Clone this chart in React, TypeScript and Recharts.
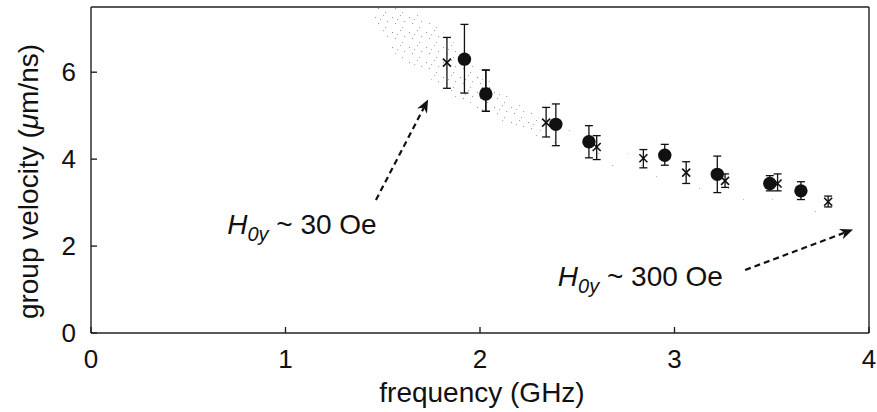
import React from 'react';
import {
  ComposedChart,
  Scatter,
  Area,
  XAxis,
  YAxis,
  ErrorBar,
  Label,
  ReferenceLine,
  ReferenceDot,
} from 'recharts';

const FONT = '"Liberation Sans", Arial, Helvetica, sans-serif';
const INK = '#111';

// filled circles
const circleFreq = [1.92, 2.03, 2.39, 2.56, 2.95, 3.22, 3.49, 3.65];
const circleVel = [6.3, 5.5, 4.8, 4.4, 4.09, 3.65, 3.44, 3.27];
const circleErrLow = [0.78, 0.4, 0.49, 0.37, 0.23, 0.42, 0.17, 0.2];
const circleErrHigh = [0.8, 0.55, 0.47, 0.37, 0.25, 0.42, 0.18, 0.21];

// crosses
const crossFreq = [1.83, 2.03, 2.34, 2.6, 2.84, 3.06, 3.26, 3.53, 3.79];
const crossVel = [6.22, 5.55, 4.84, 4.28, 4.02, 3.69, 3.5, 3.44, 3.02];
const crossErrLow = [0.59, 0.45, 0.33, 0.29, 0.22, 0.25, 0.15, 0.17, 0.12];
const crossErrHigh = [0.58, 0.5, 0.35, 0.26, 0.2, 0.25, 0.16, 0.22, 0.13];

// stippled band (dense head, sparse tail)
const headFreq = [1.43, 1.55, 1.7, 1.85, 2.0, 2.15, 2.3];
const headLow = [7.35, 6.5, 6.0, 5.5, 5.1, 4.8, 4.45];
const headHigh = [7.5, 7.5, 7.3, 6.75, 6.0, 5.45, 5.05];
const tailFreq = [2.3, 2.6, 3.0, 3.4, 3.8];
const tailLow = [4.45, 3.9, 3.35, 2.95, 2.65];
const tailHigh = [5.05, 4.4, 3.8, 3.3, 2.85];

const xTicks = [0, 1, 2, 3, 4];
const yTicks = [0, 2, 4, 6];

const circles = circleFreq.map((f, i) => ({ f, v: circleVel[i], err: [circleErrLow[i], circleErrHigh[i]] }));
const crosses = crossFreq.map((f, i) => ({ f, v: crossVel[i], err: [crossErrLow[i], crossErrHigh[i]] }));
const head = headFreq.map((f, i) => ({ f, range: [headLow[i], headHigh[i]] }));
const tail = tailFreq.map((f, i) => ({ f, range: [tailLow[i], tailHigh[i]] }));

// annotation anchors (data units)
const arrowLow = [{ x: 1.465, y: 3.06 }, { x: 1.733, y: 5.37 }];
const arrowHigh = [{ x: 3.363, y: 1.45 }, { x: 3.918, y: 2.38 }];
const labelLow = { x: 0.7, y: 2.28, text: ' ~ 30 Oe' };
const labelHigh = { x: 2.4, y: 1.08, text: ' ~ 300 Oe' };

const Dot = (p: any) => <circle cx={p.cx} cy={p.cy} r={6.7} fill={INK} />;

const Cross = (p: any) => (
  <g stroke={INK} strokeWidth={1.6}>
    <line x1={p.cx - 4} y1={p.cy - 4} x2={p.cx + 4} y2={p.cy + 4} />
    <line x1={p.cx - 4} y1={p.cy + 4} x2={p.cx + 4} y2={p.cy - 4} />
  </g>
);

const Arrow = (p: any) => {
  const { x1, y1, x2, y2 } = p;
  const a = Math.atan2(y2 - y1, x2 - x1);
  const c = Math.cos(a);
  const s = Math.sin(a);
  const L = 13;
  const W = 5.5;
  const bx = x2 - L * c;
  const by = y2 - L * s;
  const nx = x2 - L * 0.7 * c;
  const ny = y2 - L * 0.7 * s;
  const pts = [
    [x2, y2],
    [bx - W * s, by + W * c],
    [nx, ny],
    [bx + W * s, by - W * c],
  ]
    .map((q) => q.join(','))
    .join(' ');
  return (
    <g>
      <line x1={x1} y1={y1} x2={nx} y2={ny} stroke={INK} strokeWidth={2.2} strokeDasharray="6 4" />
      <polygon points={pts} fill={INK} />
    </g>
  );
};

const fieldLabel = (text: string) => (p: any) => (
  <text x={p.cx} y={p.cy} fontFamily={FONT} fontSize={28} fill={INK}>
    <tspan fontStyle="italic">H</tspan>
    <tspan fontSize={20} fontStyle="italic" dy={7}>0y</tspan>
    <tspan dy={-7}>{text}</tspan>
  </text>
);

const tickStyle = { fontSize: 26, fill: INK, fontFamily: FONT };
const axisLine = { stroke: '#222', strokeWidth: 1.4 };
const tickLine = { stroke: '#222', strokeWidth: 1.4 };

export default function App() {
  return (
    <div style={{ position: 'absolute', left: 0, top: 0, width: 877, height: 412, background: '#fff' }}>
      <ComposedChart width={877} height={412} margin={{ top: 6, right: 7, bottom: 0, left: 0 }}>
        <defs>
          <pattern id="stippleDense" width={17} height={15} patternUnits="userSpaceOnUse">
            <rect x={1} y={2} width={1.1} height={1.1} fill="#999" />
            <rect x={9} y={0} width={1.1} height={1.1} fill="#aaa" />
            <rect x={4} y={8} width={1.1} height={1.1} fill="#999" />
            <rect x={13} y={6} width={1.1} height={1.1} fill="#a5a5a5" />
            <rect x={11} y={12} width={1.1} height={1.1} fill="#aaa" />
            <rect x={6} y={4} width={1.1} height={1.1} fill="#b0b0b0" />
          </pattern>
          <pattern id="stippleSparse" width={29} height={23} patternUnits="userSpaceOnUse">
            <rect x={3} y={4} width={1.1} height={1.1} fill="#b3b3b3" />
            <rect x={18} y={15} width={1.1} height={1.1} fill="#bbb" />
          </pattern>
        </defs>

        <XAxis
          dataKey="f"
          type="number"
          domain={[0, 4]}
          ticks={xTicks}
          interval={0}
          allowDataOverflow
          height={79}
          tick={tickStyle}
          tickSize={-6}
          tickMargin={23}
          axisLine={axisLine}
          tickLine={tickLine}
        >
          <Label
            content={(p: any) => (
              <text
                x={p.viewBox.x + p.viewBox.width / 2 + 2}
                y={p.viewBox.y + 69}
                textAnchor="middle"
                fontFamily={FONT}
                fontSize={28}
                fill={INK}
              >
                frequency (GHz)
              </text>
            )}
          />
        </XAxis>
        <XAxis
          xAxisId="top"
          orientation="top"
          type="number"
          domain={[0, 4]}
          ticks={[1, 2, 3]}
          height={1}
          tick={false}
          tickSize={-6}
          axisLine={axisLine}
          tickLine={tickLine}
        />
        <YAxis
          type="number"
          domain={[0, 7.5]}
          ticks={yTicks}
          interval={0}
          allowDataOverflow
          width={91}
          tick={tickStyle}
          tickSize={-6}
          tickMargin={21}
          axisLine={axisLine}
          tickLine={tickLine}
        >
          <Label
            content={(p: any) => {
              const x = 38;
              const y = p.viewBox.y + p.viewBox.height / 2 + 11.5;
              return (
                <text
                  x={x}
                  y={y}
                  transform={`rotate(-90, ${x}, ${y})`}
                  textAnchor="middle"
                  fontFamily={FONT}
                  fontSize={28}
                  fill={INK}
                >
                  group velocity (<tspan fontStyle="italic">μ</tspan>m/ns)
                </text>
              );
            }}
          />
        </YAxis>
        <YAxis
          yAxisId="right"
          orientation="right"
          type="number"
          domain={[0, 7.5]}
          ticks={[2, 4, 6]}
          width={1}
          tick={false}
          tickSize={-6}
          axisLine={axisLine}
          tickLine={tickLine}
        />

        <Area
          data={head}
          dataKey="range"
          type="monotone"
          stroke="none"
          fill="url(#stippleDense)"
          fillOpacity={1}
          isAnimationActive={false}
        />
        <Area
          data={tail}
          dataKey="range"
          type="monotone"
          stroke="none"
          fill="url(#stippleSparse)"
          fillOpacity={1}
          isAnimationActive={false}
        />

        <Scatter data={crosses} dataKey="v" shape={Cross} isAnimationActive={false}>
          <ErrorBar dataKey="err" direction="y" width={4} stroke={INK} strokeWidth={1.3} />
        </Scatter>
        <Scatter data={circles} dataKey="v" shape={Dot} isAnimationActive={false}>
          <ErrorBar dataKey="err" direction="y" width={4} stroke={INK} strokeWidth={1.3} />
        </Scatter>

        <ReferenceLine segment={arrowLow} shape={Arrow} />
        <ReferenceLine segment={arrowHigh} shape={Arrow} />
        <ReferenceDot x={labelLow.x} y={labelLow.y} r={0} shape={fieldLabel(labelLow.text)} />
        <ReferenceDot x={labelHigh.x} y={labelHigh.y} r={0} shape={fieldLabel(labelHigh.text)} />
      </ComposedChart>
    </div>
  );
}
